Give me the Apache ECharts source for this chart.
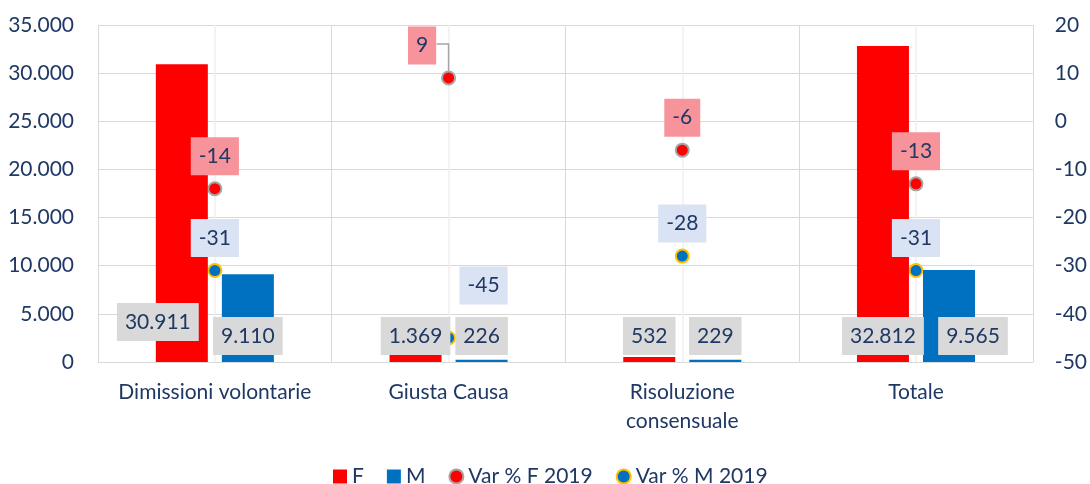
<!DOCTYPE html>
<html>
<head>
<meta charset="utf-8">
<script src="https://cdn.jsdelivr.net/npm/echarts@6/dist/echarts.min.js"></script>
<style>
html,body{margin:0;padding:0;background:#fff;}
#chart{width:1090px;height:484px;}
</style>
</head>
<body>
<div id="chart"></div>
<script>
// ---- data ----
const categories = ['Dimissioni volontarie', 'Giusta Causa', 'Risoluzione\nconsensuale', 'Totale'];
const valuesF = [30911, 1369, 532, 32812];
const valuesM = [9110, 226, 229, 9565];
const varF = [-14, 9, -6, -13];
const varM = [-31, -45, -28, -31];
const seriesNames = ['F', 'M', 'Var % F 2019', 'Var % M 2019'];

// ---- style / label placement (not data) ----
const TEXT = '#1f3864';
const FONT = 'Lato';
const labelOffsetsF = {0: [-24, -14]};
const labelOffsetsM = {3: [24, 0]};
const labelOffsetsVarF = {1: [-26.5, 0]};
const labelOffsetsVarM = {1: [35, -20]};

function fmt(v) {
  return String(v).replace(/\B(?=(\d{3})+(?!\d))/g, '.');
}
function withOffsets(values, offsets) {
  return values.map((v, i) => offsets[i] ? {value: v, label: {offset: offsets[i]}} : v);
}

const barLabel = {
  show: true,
  position: 'insideBottom',
  distance: 7,
  formatter: p => fmt(p.value),
  color: TEXT,
  fontFamily: FONT,
  fontSize: 21,
  lineHeight: 20,
  backgroundColor: '#d9d9d9',
  padding: [9, 8]
};
function scatterLabel(bg) {
  return {
    show: true,
    position: 'top',
    distance: 7,
    color: TEXT,
    opacity: 1,
    fontFamily: FONT,
    fontSize: 21,
    lineHeight: 20,
    backgroundColor: bg,
    padding: [9, 8]
  };
}

const chart = echarts.init(document.getElementById('chart'), null, {renderer: 'canvas'});
chart.setOption({
  animation: false,
  backgroundColor: '#ffffff',
  textStyle: {fontFamily: FONT, color: TEXT},
  grid: {left: 98, right: 56, top: 25, bottom: 122, containLabel: false},
  legend: {
    data: [
      {name: seriesNames[0], icon: 'rect'},
      {name: seriesNames[1], icon: 'rect'},
      {name: seriesNames[2], icon: 'circle'},
      {name: seriesNames[3], icon: 'circle'}
    ],
    left: 333,
    top: 466,
    padding: 0,
    itemWidth: 14,
    itemHeight: 14,
    itemGap: 23,
    textStyle: {color: TEXT, fontFamily: FONT, fontSize: 21}
  },
  xAxis: {
    type: 'category',
    data: categories,
    boundaryGap: true,
    axisLine: {show: true, lineStyle: {color: '#d9d9d9', width: 1}},
    axisTick: {show: false},
    splitLine: {show: true, interval: 0, lineStyle: {color: '#d9d9d9', width: 1}},
    axisLabel: {
      interval: 0,
      margin: 16,
      color: TEXT,
      fontFamily: FONT,
      fontSize: 21,
      lineHeight: 29
    }
  },
  yAxis: [
    {
      type: 'value',
      min: 0,
      max: 35000,
      interval: 5000,
      axisLine: {show: false},
      axisTick: {show: false},
      splitLine: {show: true, lineStyle: {color: '#d9d9d9', width: 1}},
      axisLabel: {margin: 24, color: TEXT, fontFamily: FONT, fontSize: 21, formatter: v => fmt(v)}
    },
    {
      type: 'value',
      min: -50,
      max: 20,
      interval: 10,
      position: 'right',
      axisLine: {show: false},
      axisTick: {show: false},
      splitLine: {show: false},
      axisLabel: {margin: 22, color: TEXT, fontFamily: FONT, fontSize: 21}
    }
  ],
  series: [
    {
      name: seriesNames[0],
      type: 'bar',
      z: 3,
      barWidth: 52,
      barGap: '27%',
      itemStyle: {color: '#ff0000'},
      label: barLabel,
      data: withOffsets(valuesF, labelOffsetsF)
    },
    {
      name: seriesNames[1],
      type: 'bar',
      z: 3,
      barWidth: 52,
      barGap: '27%',
      itemStyle: {color: '#0070c0'},
      label: barLabel,
      data: withOffsets(valuesM, labelOffsetsM)
    },
    {
      name: seriesNames[2],
      type: 'scatter',
      yAxisIndex: 1,
      z: 2,
      symbol: 'circle',
      symbolSize: 13,
      itemStyle: {color: '#ff0000', borderColor: '#a5a5a5', borderWidth: 2, opacity: 1},
      markLine: {
        silent: true,
        z: 1,
        symbol: 'none',
        label: {show: false},
        lineStyle: {color: '#efefef', width: 1.5, type: 'solid'},
        data: categories.map(c => ({xAxis: c}))
      },
      data: varF
    },
    {
      name: seriesNames[3],
      type: 'scatter',
      yAxisIndex: 1,
      z: 2,
      symbol: 'circle',
      symbolSize: 13,
      itemStyle: {color: '#0070c0', borderColor: '#ffc000', borderWidth: 2, opacity: 1},
      data: varM
    },
    {
      name: 'labelsF',
      type: 'scatter',
      yAxisIndex: 1,
      z: 6,
      silent: true,
      symbol: 'circle',
      symbolSize: 13,
      itemStyle: {color: 'rgba(0,0,0,0)', borderWidth: 0, opacity: 1},
      label: scatterLabel('#f7949b'),
      data: withOffsets(varF, labelOffsetsVarF)
    },
    {
      name: 'labelsM',
      type: 'scatter',
      yAxisIndex: 1,
      z: 6,
      silent: true,
      symbol: 'circle',
      symbolSize: 13,
      itemStyle: {color: 'rgba(0,0,0,0)', borderWidth: 0, opacity: 1},
      label: scatterLabel('#dae3f3'),
      data: withOffsets(varM, labelOffsetsVarM)
    },
    {
      name: 'leader',
      type: 'custom',
      yAxisIndex: 1,
      z: 2,
      silent: true,
      data: [[1, varF[1]]],
      encode: {x: 0, y: 1},
      renderItem: function (params, api) {
        const pt = api.coord([api.value(0), api.value(1)]);
        return {
          type: 'polyline',
          shape: {points: [[pt[0] - 12, pt[1] - 34], [pt[0], pt[1] - 34], [pt[0], pt[1] - 7]]},
          style: {stroke: '#a6a6a6', lineWidth: 1.5, fill: null}
        };
      }
    }
  ]
});
</script>
</body>
</html>
